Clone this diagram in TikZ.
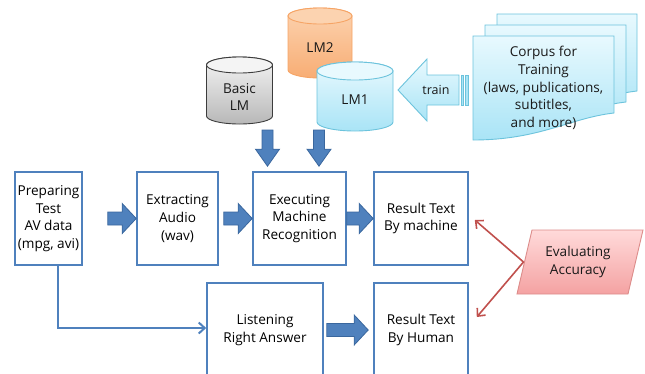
\documentclass[tikz,border=0pt]{standalone}
\usepackage{fontspec}
\setmainfont{Open Sans}
\usetikzlibrary{calc,arrows.meta}

\definecolor{boxblue}{HTML}{4F81BD}
\definecolor{arrowedge}{HTML}{3A679E}
\definecolor{evalred}{HTML}{C0504D}
\definecolor{cyanedge}{HTML}{6CC3DC}
\definecolor{cyantop}{HTML}{E8F9FE}
\definecolor{cyanbot}{HTML}{A9E4F6}
\definecolor{orangetop}{HTML}{FCD3B0}
\definecolor{orangebot}{HTML}{F8AD74}
\definecolor{orangeedge}{HTML}{F6A465}
\definecolor{graytop}{HTML}{F4F4F4}
\definecolor{graybot}{HTML}{B8B8B8}
\definecolor{grayedge}{HTML}{3C3C3C}
\definecolor{pinktop}{HTML}{FFDADA}
\definecolor{pinkbot}{HTML}{F4A2A2}
\definecolor{pinkedge}{HTML}{DC8C8A}

\tikzset{
  stepbox/.style={draw=boxblue, line width=1.6pt, fill=white, align=center,
    inner sep=0pt, minimum height=93pt},
  blockarrow/.style={fill=boxblue, draw=arrowedge, line width=0.8pt, line join=miter},
  thinarrow/.style={draw=boxblue, line width=2pt,
    -{Straight Barb[length=6pt,width=11pt,line width=2pt]}},
  redarrow/.style={draw=evalred, line width=1.6pt,
    -{Straight Barb[length=6pt,width=11pt,line width=1.6pt]}},
  label/.style={align=center, inner sep=0pt, text=black!90},
  docshape/.style={draw=cyanedge, line width=0.9pt, top color=cyantop, bottom color=cyanbot}
}

% horizontal block arrow from #1 to #2
\newcommand\fatright[2]{%
  \draw[blockarrow] let \p1=(#1), \p2=(#2) in
    ({\x1},{\y1+6.5pt}) -- ({\x2-14pt},{\y1+6.5pt}) -- ({\x2-14pt},{\y1+15pt})
    -- ({\x2},{\y1}) -- ({\x2-14pt},{\y1-15pt}) -- ({\x2-14pt},{\y1-6.5pt})
    -- ({\x1},{\y1-6.5pt}) -- cycle;}
% downward block arrow from #1 to #2
\newcommand\fatdown[2]{%
  \draw[blockarrow] let \p1=(#1), \p2=(#2) in
    ({\x1-5.5pt},{\y1}) -- ({\x1-5.5pt},{\y2+17pt}) -- ({\x1-12pt},{\y2+17pt})
    -- ({\x1},{\y2}) -- ({\x1+12pt},{\y2+17pt}) -- ({\x1+5.5pt},{\y2+17pt})
    -- ({\x1+5.5pt},{\y1}) -- cycle;}
% database cylinder: centre x, top y, bottom y, x radius, y radius, top, bottom, edge colours
\newcommand\dbcyl[8]{%
  \draw[draw=#8, line width=0.9pt, top color=#6, bottom color=#7]
    ({#1-#4},{#2-#5}) -- ({#1-#4},{#3+#5})
    arc[start angle=180, end angle=360, x radius=#4, y radius=#5]
    -- ({#1+#4},{#2-#5})
    arc[start angle=0, end angle=180, x radius=#4, y radius=#5] -- cycle;
  \draw[draw=#8, line width=0.9pt, fill=#6] (#1,{#2-#5}) ellipse[x radius=#4, y radius=#5];}
% document with a wavy lower edge: left x, top y, right x, right end y, left end y
\newcommand\wavydoc[5]{%
  \draw[docshape] (#1,#2) -- (#3,#2) -- (#3,#4)
    .. controls ({#3-44},{#4-5}) and ({#1+67},{#5}) .. (#1,#5) -- cycle;}

\begin{document}
\begin{tikzpicture}[x=1pt, y=1pt, font=\fontsize{13.6}{17.6}\selectfont]
\useasboundingbox (0,0) rectangle (645,-373);
\clip (0,0) rectangle (645,-373);

% language model stores
\dbcyl{320}{-8}{-78}{32}{8}{orangetop}{orangebot}{orangeedge}
\node[label] (lm2) at (320,-48) {LM2};
\dbcyl{239.5}{-57}{-124}{33}{8}{graytop}{graybot}{grayedge}
\node[label] (basic) at (239.5,-97) {Basic\\LM};
\dbcyl{355}{-62}{-131}{38}{9}{cyantop}{cyanbot}{cyanedge}
\node[label] (lm1) at (355,-100) {LM1};

% training corpus (stacked documents)
\wavydoc{497}{-14}{637}{-91}{-118}
\wavydoc{485}{-25}{626}{-102}{-129}
\wavydoc{473}{-36}{614}{-113}{-140}
\node[label] (corpus) at (543.5,-88) {Corpus for\\Training\\(laws, publications,\\subtitles,\\and more)};

% striped "train" arrow pointing to LM1
\draw[draw=cyanedge, line width=0.9pt, top color=cyantop, bottom color=cyanbot, line join=miter]
  (398,-90) -- (427,-59) -- (427,-75) -- (459,-75) -- (459,-105) -- (427,-105)
  -- (427,-121) -- cycle;
\draw[draw=cyanedge, line width=0.7pt, fill=cyanbot] (461,-75) rectangle (463.5,-105);
\draw[draw=cyanedge, line width=0.7pt, fill=cyanbot] (465.5,-75) rectangle (468,-105);
\node[label, font=\fontsize{12.5}{15}\selectfont] (train) at (436,-90) {train};

% process boxes
\node[stepbox, minimum width=67pt] (b1) at (48.5,-218.5) {Preparing\\Test\\AV data\\(mpg, avi)};
\node[stepbox, minimum width=81pt] (b2) at (177.5,-218.5) {Extracting\\Audio\\(wav)};
\node[stepbox, minimum width=93pt] (b3) at (299.5,-218.5) {Executing\\Machine\\Recognition};
\node[stepbox, minimum width=94pt] (b4) at (421,-218.5) {Result Text\\By machine};
\node[stepbox, minimum width=116pt, minimum height=94pt] (listen) at (265,-330) {Listening\\Right Answer};
\node[stepbox, minimum width=94pt, minimum height=94pt] (human) at (421,-330) {Result Text\\By Human};

% evaluation step
\draw[line width=0.9pt, draw=pinkedge, top color=pinktop, bottom color=pinkbot]
  (532,-230) -- (643,-230) -- (628,-294) -- (517,-294) -- cycle;
\node[label] (eval) at (578,-262) {Evaluating\\Accuracy};
\coordinate (evalin) at (523.5,-262);

% block arrows along the pipeline
\fatright{$(b1.east)+(25,0)$}{b2.west}
\fatright{$(b2.east)+(5,0)$}{b3.west}
\fatright{b3.east}{b4.west}
\fatright{$(listen.east)+(3,0)$}{$(human.west)+(-5,0)$}

% models feeding the recogniser
\coordinate (m1) at (267.5,-130);
\coordinate (m2) at (319,-130);
\fatdown{m1}{$(b3.north)+(-32,5)$}
\fatdown{m2}{$(b3.north)+(19.5,5)$}

% path to the human transcription
\draw[thinarrow] ($(b1.south)+(9.5,0)$) |- ($(listen.west)+(0,2)$);

% comparison arrows
\draw[redarrow] (evalin) -- ($(b4.east)+(6,-1.5)$);
\draw[redarrow] (evalin) -- ($(human.east)+(8,13)$);
\end{tikzpicture}
\end{document}
